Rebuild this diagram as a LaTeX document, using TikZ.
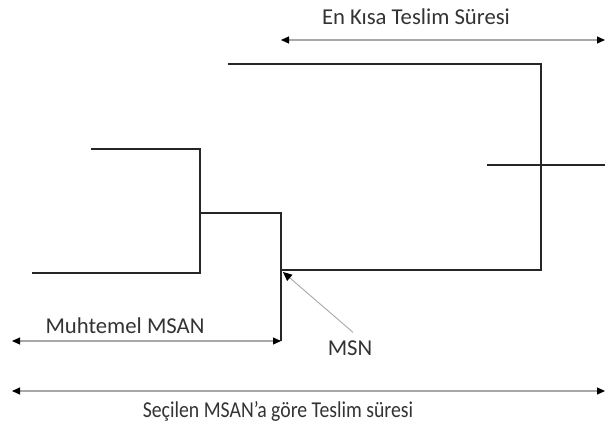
\documentclass[tikz,border=0pt]{standalone}
\usepackage{fontspec}
\setmainfont{Carlito}
\newfontfamily\narrowlbl[FakeStretch=0.87]{Carlito}
\usetikzlibrary{positioning, arrows.meta}
\definecolor{dimline}{HTML}{A8A8A8}
\definecolor{lbltext}{HTML}{333333}

\begin{document}
\begin{tikzpicture}[x=1pt, y=-1pt,
  every node/.style={font=\fontsize{22.7}{26}\selectfont, text=lbltext, inner sep=1pt},
  narrow/.style={font=\narrowlbl\fontsize{22.7}{26}\selectfont},
  tree/.style={line width=2.7pt, line cap=rect, draw=black!85},
  span/.style={draw=dimline, line width=1.1pt,
               {Triangle[length=8pt, width=7pt, color=black]}-{Triangle[length=8pt, width=7pt, color=black]}},
  pointer/.style={draw=dimline, line width=0.9pt, -{Triangle[length=9pt, width=8pt, color=black]}}]

\useasboundingbox (0,0) rectangle (605,429);

% tree lines
\draw[tree] (92,149) -| (200,273) -- (33,273);
\draw[tree] (200,213) -| (281,340);
\draw[tree] (229,64) -| (541,270) -- (283,270);
\draw[tree] (488,165) -- (604,165);

% spans
\coordinate (topL) at (281,40);
\coordinate (topR) at (605,40);
\coordinate (midL) at (12,341);
\coordinate (midR) at (281,341);
\coordinate (botL) at (12,391);
\coordinate (botR) at (605,391);
\coordinate (msnTip) at (283,272);

\draw[span] (topL) -- (topR);
\draw[span] (midL) -- (midR);
\draw[span] (botL) -- (botR);

\node (enkisa) at (416,17) {En Kısa Teslim Süresi};
\node (muhtemel) at (125,326) {Muhtemel MSAN};
\node[narrow] (secilen) at (278,411) {Seçilen MSAN’a göre Teslim süresi};
\node (msn) at (350,348) {MSN};

\draw[pointer] (msn.north) ++(3,-7) -- (msnTip);
\end{tikzpicture}
\end{document}
